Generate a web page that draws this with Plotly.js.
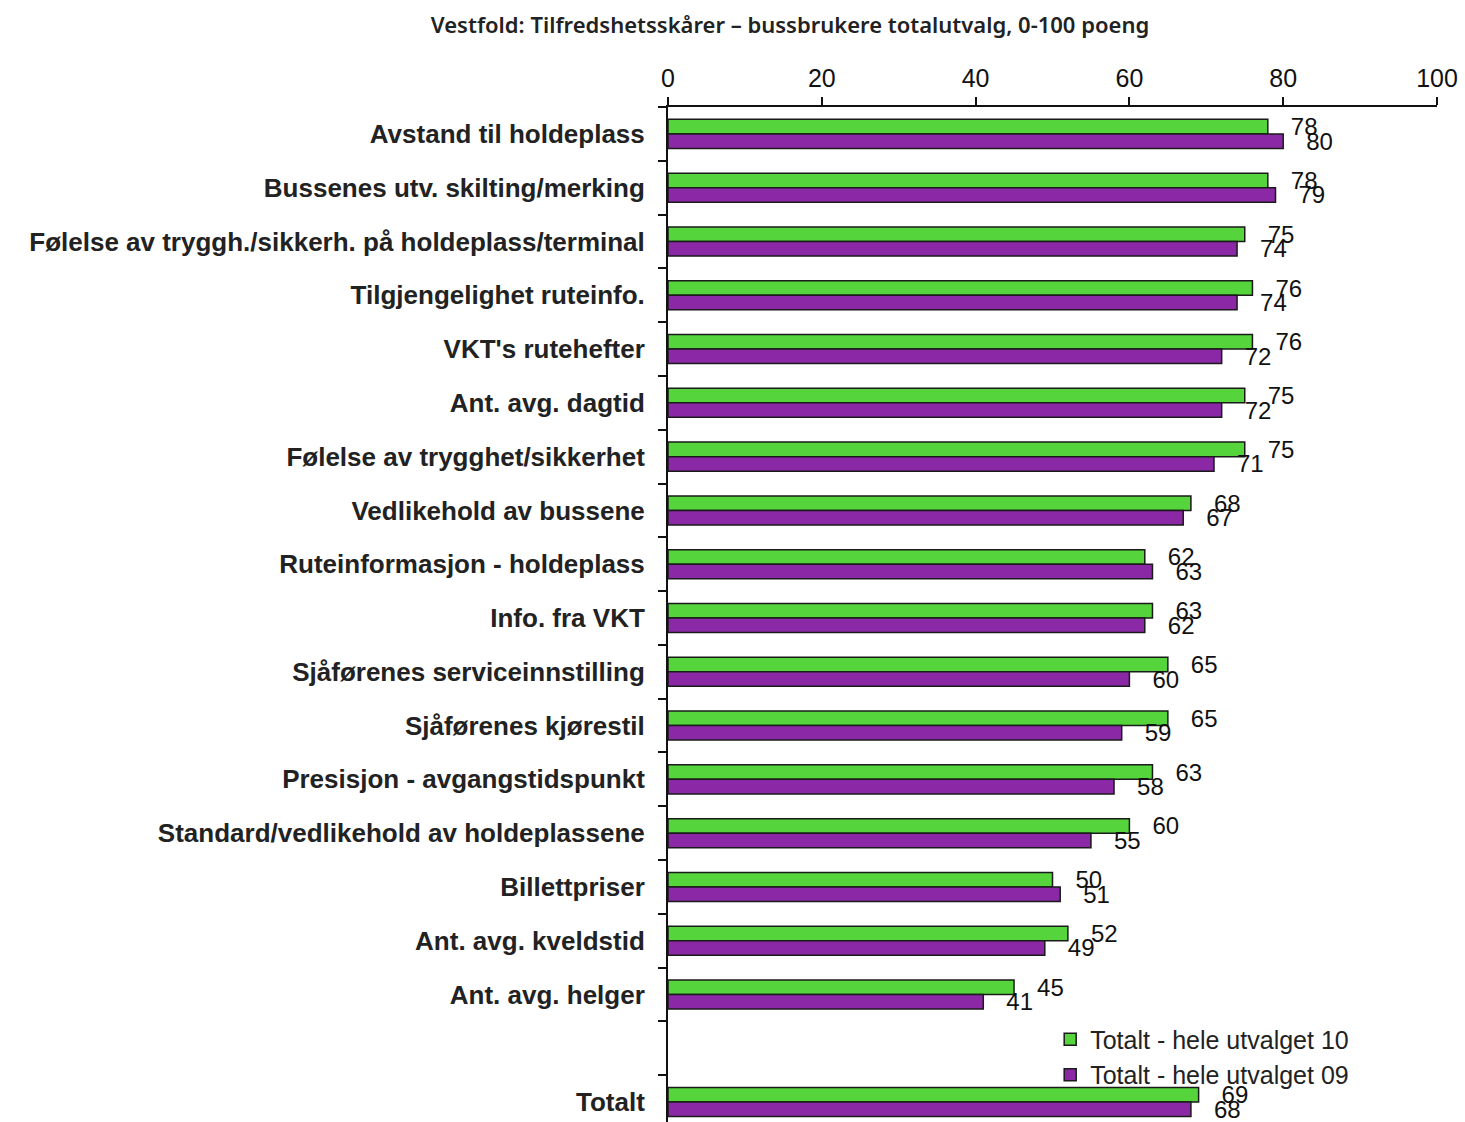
<!DOCTYPE html>
<html>
<head>
<meta charset="utf-8">
<script src="https://cdn.plot.ly/plotly-3.0.1.min.js"></script>
<style>html,body{margin:0;padding:0;background:#fff;}#chart{width:1465px;height:1122px;}</style>
</head>
<body>
<div id="chart"></div>
<script>
const categories = [
  "Avstand til holdeplass",
  "Bussenes utv. skilting/merking",
  "Følelse av tryggh./sikkerh. på holdeplass/terminal",
  "Tilgjengelighet ruteinfo.",
  "VKT's rutehefter",
  "Ant. avg. dagtid",
  "Følelse av trygghet/sikkerhet",
  "Vedlikehold av bussene",
  "Ruteinformasjon - holdeplass",
  "Info. fra VKT",
  "Sjåførenes serviceinnstilling",
  "Sjåførenes kjørestil",
  "Presisjon - avgangstidspunkt",
  "Standard/vedlikehold av holdeplassene",
  "Billettpriser",
  "Ant. avg. kveldstid",
  "Ant. avg. helger",
  " ",
  "Totalt"
];
const values10 = [78, 78, 75, 76, 76, 75, 75, 68, 62, 63, 65, 65, 63, 60, 50, 52, 45, null, 69];
const values09 = [80, 79, 74, 74, 72, 72, 71, 67, 63, 62, 60, 59, 58, 55, 51, 49, 41, null, 68];
const seriesNames = ["Totalt - hele utvalget 10", "Totalt - hele utvalget 09"];
const xTicks = [0, 20, 40, 60, 80, 100];

const NB = "\u00a0\u00a0\u00a0";
const labelFont = {family: "Liberation Sans, Arial, sans-serif", size: 24, color: "#111"};

const traces = [
  {
    type: "bar", orientation: "h", name: seriesNames[0],
    y: categories, x: values10,
    marker: {color: "#55d43c", line: {color: "#1a1a1a", width: 1.5}},
    text: values10.map(v => v === null ? "" : NB + v),
    textposition: "outside", cliponaxis: false, constraintext: "none",
    textfont: labelFont, hoverinfo: "x+y"
  },
  {
    type: "bar", orientation: "h", name: seriesNames[1],
    y: categories, x: values09,
    marker: {color: "#8a28a6", line: {color: "#1a1a1a", width: 1.5}},
    text: values09.map(v => v === null ? "" : NB + v),
    textposition: "outside", cliponaxis: false, constraintext: "none",
    textfont: labelFont, hoverinfo: "x+y"
  }
];

const layout = {
  width: 1465, height: 1122,
  margin: {l: 668, r: 28, t: 107, b: 0, pad: 0},
  paper_bgcolor: "#fff", plot_bgcolor: "#fff",
  barmode: "group", bargap: 0.46, bargroupgap: 0,
  showlegend: true,
  title: {
    text: "Vestfold: Tilfredshetsskårer – bussbrukere totalutvalg, 0-100 poeng",
    font: {family: "Noto Sans, Open Sans, sans-serif", size: 22, color: "#222", weight: 600},
    x: 790 / 1465, xanchor: "center", xref: "container",
    y: 1 - 25 / 1122, yanchor: "middle", yref: "container"
  },
  xaxis: {
    side: "top", range: [0, 100], tickvals: xTicks, ticktext: xTicks.map(String),
    showgrid: false, zeroline: false, showline: true, linecolor: "#111", linewidth: 2,
    ticks: "outside", ticklen: 8, tickwidth: 2, tickcolor: "#111",
    tickfont: {family: "Liberation Sans, Arial, sans-serif", size: 25, color: "#111"},
    fixedrange: true
  },
  yaxis: {
    type: "category", categoryorder: "array", categoryarray: categories,
    range: [18.37, -0.5],
    showgrid: false, zeroline: false, showline: true, linecolor: "#111", linewidth: 2,
    ticks: "outside", tickson: "boundaries", ticklen: 8, tickwidth: 2, tickcolor: "#111",
    tickfont: {family: "Liberation Sans, Arial, sans-serif", size: 26, color: "#222", weight: "bold"},
    ticklabelstandoff: 16,
    fixedrange: true
  },
  legend: {
    x: 0.497, y: 0.104, xanchor: "left", yanchor: "top",
    bgcolor: "rgba(0,0,0,0)", traceorder: "normal",
    font: {family: "Liberation Sans, Arial, sans-serif", size: 25, color: "#222"},
    itemwidth: 30, tracegroupgap: 0
  }
};

Plotly.newPlot("chart", traces, layout, {displayModeBar: false, staticPlot: true});
</script>
</body>
</html>
